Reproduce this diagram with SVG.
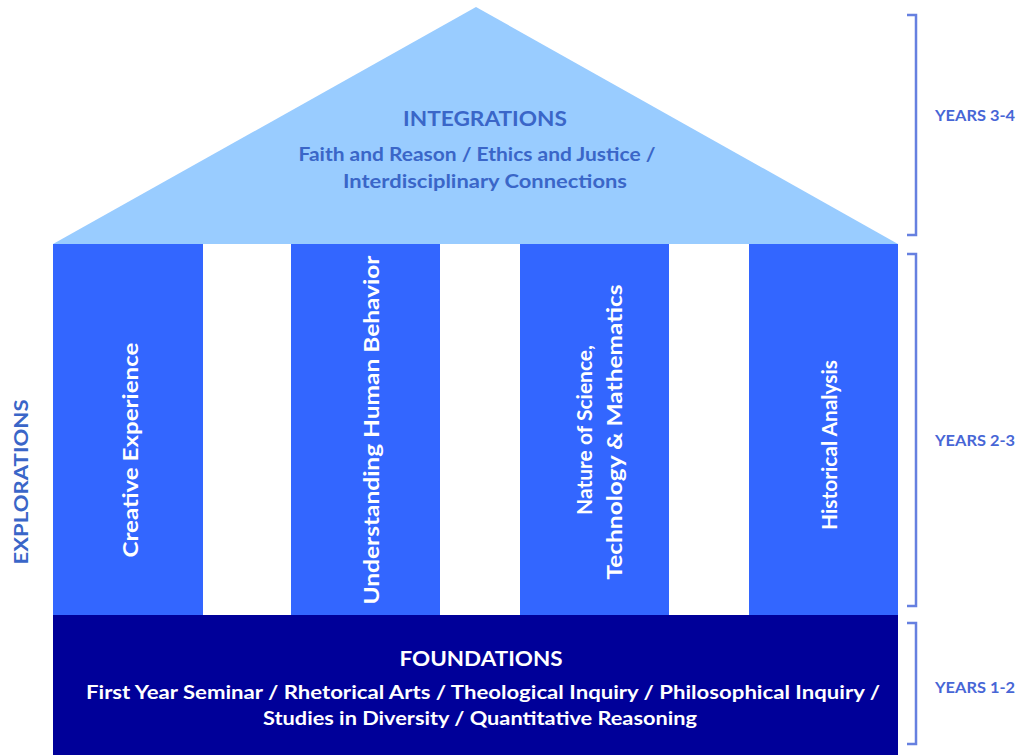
<svg xmlns="http://www.w3.org/2000/svg" width="1019" height="755" viewBox="0 0 1019 755">
<style>
.t{font-family:Lato,"Open Sans","Liberation Sans",sans-serif;font-weight:bold}
.roof{fill:#99ccff}
.col{fill:#3366ff}
.found{fill:#000099}
.rt{fill:#3a66c8}
.wt{fill:#ffffff}
.yr{fill:#4766d6;font-size:15px}
.br{fill:none;stroke:#6680e0;stroke-width:2.5}
</style>
<rect width="1019" height="755" fill="#ffffff"/>
<g id="integrations">
<polygon class="roof" points="476,7 898,244 53,244"/>
<text class="t rt" x="485" y="126" font-size="20" text-anchor="middle" textLength="164" lengthAdjust="spacingAndGlyphs">INTEGRATIONS</text>
<text class="t rt" x="477" y="161" font-size="18" text-anchor="middle" textLength="357" lengthAdjust="spacingAndGlyphs">Faith and Reason / Ethics and Justice /</text>
<text class="t rt" x="485" y="188" font-size="18" text-anchor="middle" textLength="284" lengthAdjust="spacingAndGlyphs">Interdisciplinary Connections</text>
</g>
<g id="creative-experience">
<rect class="col" x="53" y="244" width="150" height="371"/>
<text class="t wt" transform="translate(138,450) rotate(-90)" font-size="20" text-anchor="middle" textLength="215" lengthAdjust="spacingAndGlyphs">Creative Experience</text>
</g>
<g id="understanding-human-behavior">
<rect class="col" x="291" y="244" width="149" height="371"/>
<text class="t wt" transform="translate(379,430) rotate(-90)" font-size="20" text-anchor="middle" textLength="349" lengthAdjust="spacingAndGlyphs">Understanding Human Behavior</text>
</g>
<g id="nature-of-science">
<rect class="col" x="520" y="244" width="149" height="371"/>
<text class="t wt" transform="translate(592,430) rotate(-90)" font-size="20" text-anchor="middle" textLength="170" lengthAdjust="spacingAndGlyphs">Nature of Science,</text>
<text class="t wt" transform="translate(622,432) rotate(-90)" font-size="20" text-anchor="middle" textLength="295" lengthAdjust="spacingAndGlyphs">Technology &amp; Mathematics</text>
</g>
<g id="historical-analysis">
<rect class="col" x="749" y="244" width="149" height="371"/>
<text class="t wt" transform="translate(837,445) rotate(-90)" font-size="20" text-anchor="middle" textLength="170" lengthAdjust="spacingAndGlyphs">Historical Analysis</text>
</g>
<g id="explorations">
<text class="t rt" transform="translate(28,482) rotate(-90)" font-size="19" text-anchor="middle" textLength="165" lengthAdjust="spacingAndGlyphs">EXPLORATIONS</text>
</g>
<g id="foundations">
<rect class="found" x="53" y="615" width="845" height="140"/>
<text class="t wt" x="481" y="666" font-size="20" text-anchor="middle" textLength="163" lengthAdjust="spacingAndGlyphs">FOUNDATIONS</text>
<text class="t wt" x="483" y="699" font-size="18" text-anchor="middle" textLength="794" lengthAdjust="spacingAndGlyphs">First Year Seminar / Rhetorical Arts / Theological Inquiry / Philosophical Inquiry /</text>
<text class="t wt" x="480" y="725" font-size="18" text-anchor="middle" textLength="434" lengthAdjust="spacingAndGlyphs">Studies in Diversity / Quantitative Reasoning</text>
</g>
<g id="brackets">
<polyline class="br" points="907,15 916,15 916,235 907,235"/>
<polyline class="br" points="907,254 916,254 916,606 907,606"/>
<polyline class="br" points="907,623 916,623 916,744 907,744"/>
</g>
<g id="years">
<text class="t yr" x="935" y="121" textLength="80" lengthAdjust="spacingAndGlyphs">YEARS 3-4</text>
<text class="t yr" x="935" y="446" textLength="80" lengthAdjust="spacingAndGlyphs">YEARS 2-3</text>
<text class="t yr" x="935" y="693" textLength="80" lengthAdjust="spacingAndGlyphs">YEARS 1-2</text>
</g>
</svg>
